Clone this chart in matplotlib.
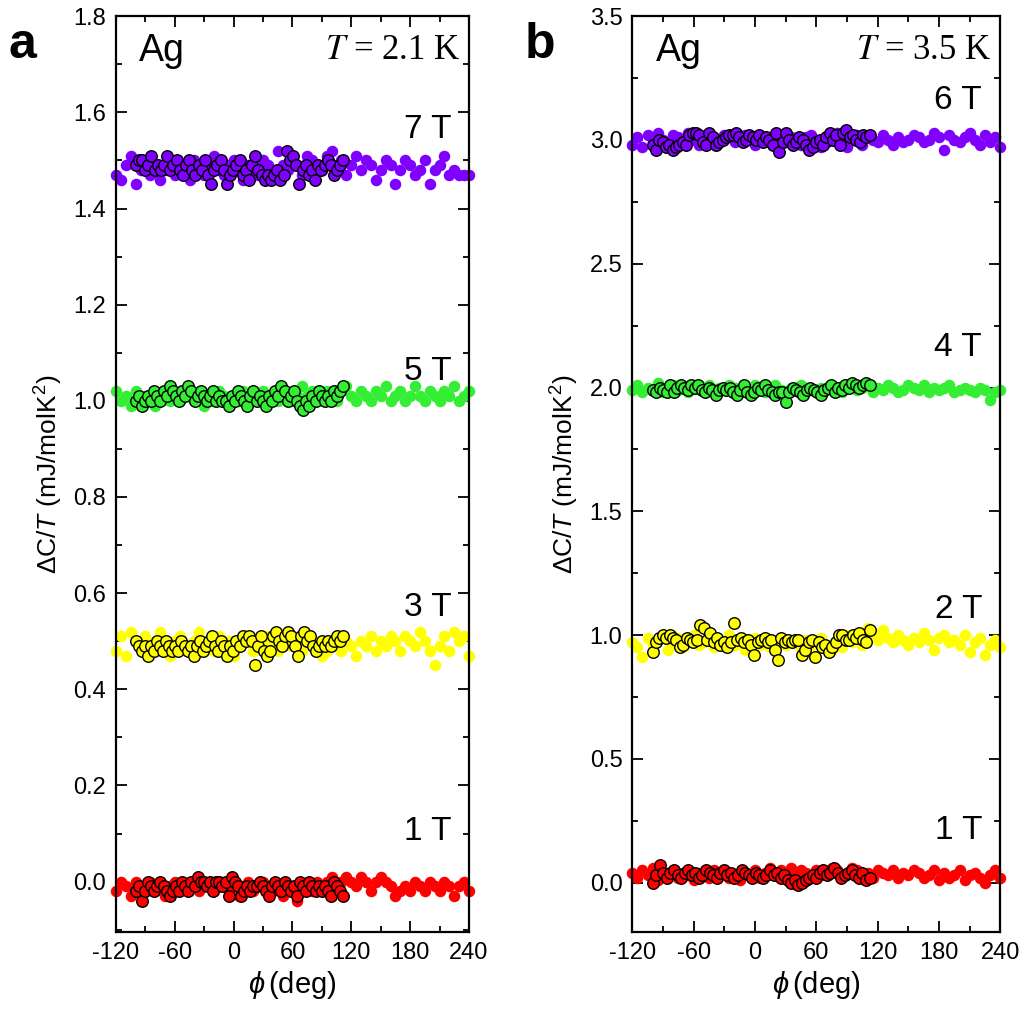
import numpy as np
import matplotlib
matplotlib.use('Agg')
import matplotlib.pyplot as plt
from matplotlib.ticker import MultipleLocator

plt.rcParams['font.family'] = ['Liberation Sans', 'DejaVu Sans']
plt.rcParams['mathtext.fontset'] = 'custom'
plt.rcParams['mathtext.rm'] = 'Liberation Sans'
plt.rcParams['mathtext.it'] = 'Liberation Sans:italic'
plt.rcParams['axes.unicode_minus'] = False

# ---- panel a, T = 2.1 K ----
a_7T_full = [1.47, 1.46, 1.49, 1.51, 1.45, 1.48, 1.50, 1.47, 1.49, 1.46, 1.48, 1.50, 1.47, 1.49, 1.48, 1.46,
             1.50, 1.48, 1.47, 1.49, 1.51, 1.48, 1.47, 1.49, 1.50, 1.48, 1.46, 1.49, 1.48, 1.47, 1.50, 1.49,
             1.47, 1.52, 1.49, 1.48, 1.50, 1.49, 1.47, 1.51, 1.50, 1.49, 1.48, 1.51, 1.52, 1.49, 1.50, 1.47,
             1.49, 1.51, 1.48, 1.50, 1.49, 1.46, 1.48, 1.50, 1.49, 1.45, 1.48, 1.50, 1.49, 1.47, 1.48, 1.50,
             1.45, 1.48, 1.49, 1.51, 1.47, 1.48, 1.47, 1.47, 1.47]
a_7T_edge = [1.49, 1.50, 1.50, 1.48, 1.49, 1.51, 1.48, 1.49, 1.48, 1.49, 1.51, 1.48, 1.49, 1.50, 1.48, 1.47,
             1.49, 1.50, 1.48, 1.47, 1.49, 1.48, 1.50, 1.47, 1.45, 1.48, 1.49, 1.50, 1.48, 1.45, 1.47, 1.48,
             1.49, 1.50, 1.47, 1.48, 1.46, 1.49, 1.51, 1.48, 1.47, 1.46, 1.47, 1.46, 1.47, 1.48, 1.46, 1.47,
             1.52, 1.50, 1.51, 1.49, 1.45, 1.48, 1.49, 1.47, 1.48, 1.46, 1.49, 1.48, 1.49, 1.50, 1.49, 1.47,
             1.48, 1.49, 1.50]
a_5T_full = [1.02, 1.00, 1.01, 0.99, 1.02, 1.00, 1.01, 1.00, 0.99, 1.01, 1.02, 1.00, 1.01, 1.00, 1.02, 1.01,
             1.00, 1.01, 0.99, 1.01, 1.00, 1.02, 1.01, 1.00, 1.01, 1.00, 1.02, 1.01, 1.00, 1.01, 1.02, 1.00,
             1.01, 1.00, 1.02, 1.01, 1.00, 1.01, 1.03, 1.01, 1.02, 1.00, 1.01, 1.02, 1.01, 1.00, 1.02, 1.03,
             1.01, 1.00, 1.02, 1.01, 1.00, 1.02, 1.01, 1.03, 1.00, 1.01, 1.02, 1.00, 1.01, 1.03, 1.01, 1.00,
             1.02, 1.01, 1.00, 1.02, 1.01, 1.03, 1.00, 1.01, 1.02]
a_5T_edge = [1.00, 1.01, 0.99, 1.00, 1.01, 1.00, 1.02, 1.01, 1.00, 1.02, 1.01, 1.03, 1.02, 1.01, 1.00, 1.02,
             1.01, 1.03, 1.02, 1.00, 1.01, 1.02, 1.01, 1.00, 1.01, 1.02, 1.00, 1.01, 1.00, 1.00, 0.99, 1.01,
             1.00, 1.02, 1.01, 1.00, 0.99, 1.01, 1.02, 1.00, 1.01, 1.00, 0.99, 1.01, 1.00, 1.02, 1.01, 1.03,
             1.02, 1.00, 1.01, 1.02, 1.00, 0.99, 0.98, 1.00, 0.99, 1.01, 1.00, 1.02, 1.01, 1.00, 1.01, 1.00,
             1.02, 1.01, 1.02, 1.03]
a_3T_full = [0.48, 0.51, 0.47, 0.52, 0.50, 0.49, 0.51, 0.48, 0.50, 0.52, 0.49, 0.47, 0.50, 0.51, 0.49, 0.48,
             0.50, 0.52, 0.49, 0.50, 0.48, 0.51, 0.49, 0.50, 0.47, 0.49, 0.51, 0.50, 0.48, 0.49, 0.50, 0.51,
             0.49, 0.48, 0.50, 0.51, 0.49, 0.50, 0.48, 0.51, 0.50, 0.49, 0.47, 0.48, 0.50, 0.49, 0.48, 0.50,
             0.49, 0.47, 0.50, 0.49, 0.51, 0.48, 0.50, 0.49, 0.51, 0.50, 0.48, 0.51, 0.50, 0.49, 0.52, 0.50,
             0.48, 0.45, 0.49, 0.51, 0.48, 0.52, 0.50, 0.51, 0.47]
a_3T_edge = [0.50, 0.49, 0.48, 0.49, 0.47, 0.49, 0.48, 0.50, 0.49, 0.48, 0.50, 0.49, 0.48, 0.49, 0.48, 0.50,
             0.49, 0.48, 0.49, 0.47, 0.49, 0.50, 0.48, 0.49, 0.50, 0.51, 0.49, 0.48, 0.50, 0.49, 0.47, 0.49,
             0.48, 0.50, 0.49, 0.51, 0.50, 0.51, 0.50, 0.45, 0.49, 0.51, 0.48, 0.47, 0.48, 0.51, 0.52, 0.50,
             0.49, 0.51, 0.52, 0.51, 0.49, 0.47, 0.51, 0.52, 0.50, 0.51, 0.49, 0.48, 0.49, 0.50, 0.49, 0.50,
             0.49, 0.50, 0.51, 0.50, 0.51]
a_1T_full = [-0.02, 0.00, -0.01, -0.03, 0.00, -0.02, -0.01, 0.00, -0.02, -0.01, -0.03, -0.01, 0.00, -0.02,
             -0.01, 0.00, -0.01, -0.02, 0.00, -0.01, -0.02, -0.01, 0.00, -0.02, -0.01, -0.03, -0.01, 0.00,
             -0.02, -0.01, 0.00, -0.01, -0.02, -0.01, -0.03, -0.01, -0.02, -0.04, -0.02, -0.01, -0.02, 0.00,
             -0.01, 0.00, 0.01, -0.01, 0.00, 0.01, 0.00, -0.01, 0.01, 0.00, -0.02, 0.00, 0.01, 0.00, -0.01,
             -0.03, -0.02, -0.01, -0.02, 0.00, -0.01, -0.02, 0.00, -0.01, -0.02, 0.00, -0.01, -0.03, -0.01,
             0.00, -0.02]
a_1T_edge = [-0.02, -0.01, -0.04, -0.02, 0.00, -0.01, -0.02, -0.01, 0.00, -0.01, -0.02, -0.03, -0.02, -0.01,
             -0.02, 0.00, -0.01, -0.02, 0.00, -0.01, 0.01, 0.00, 0.00, -0.01, 0.00, -0.02, 0.00, 0.00, -0.01,
             0.00, -0.03, 0.01, 0.00, -0.01, -0.03, -0.02, -0.01, -0.02, -0.01, -0.01, 0.00, -0.01, -0.02,
             -0.03, -0.01, 0.00, -0.01, -0.02, 0.00, -0.01, -0.02, -0.01, -0.03, 0.00, -0.01, -0.02, 0.00,
             -0.01, -0.02, -0.01, -0.02, -0.01, -0.02, -0.03, 0.00, -0.01, -0.02, -0.03]

# ---- panel b, T = 3.5 K ----
b_6T_full = [2.98, 3.01, 2.97, 3.02, 2.99, 3.03, 3.00, 2.98, 3.02, 3.01, 2.99, 3.03, 3.00, 2.98, 3.01, 3.02,
             2.99, 3.00, 3.02, 3.01, 2.99, 3.00, 3.02, 3.01, 2.98, 3.00, 3.01, 2.99, 3.02, 3.00, 2.99, 3.01,
             3.00, 2.98, 3.01, 3.02, 3.00, 2.97, 2.99, 3.01, 3.03, 2.98, 2.97, 3.00, 3.02, 2.98, 3.01, 3.00,
             2.99, 3.02, 3.00, 2.98, 3.01, 2.99, 3.00, 3.02, 3.01, 2.99, 3.00, 3.03, 3.01, 2.96, 3.02, 3.00,
             2.99, 3.01, 3.03, 3.00, 2.98, 3.02, 2.99, 3.01, 2.97]
b_6T_edge = [2.98, 2.96, 3.00, 2.99, 2.97, 2.98, 2.96, 2.97, 2.98, 2.99, 2.98, 3.02, 3.03, 3.03, 3.02, 2.99,
             2.98, 3.03, 3.01, 2.98, 2.99, 3.00, 3.01, 3.02, 3.02, 3.03, 3.01, 2.99, 3.00, 3.02, 3.01, 3.00,
             3.02, 2.99, 3.01, 3.00, 2.98, 3.03, 2.95, 2.99, 3.03, 3.00, 2.98, 2.99, 3.01, 3.00, 2.98, 2.96,
             2.97, 2.99, 3.00, 2.98, 3.01, 3.03, 3.00, 3.02, 2.98, 3.03, 3.04, 3.01, 3.02, 3.00, 2.99, 3.02,
             3.01, 3.02]
b_4T_full = [1.99, 2.01, 1.98, 2.00, 1.99, 2.02, 1.98, 2.00, 2.01, 1.99, 2.00, 1.98, 2.01, 2.00, 1.99, 2.01,
             1.98, 2.00, 1.99, 2.01, 2.00, 1.98, 2.00, 1.99, 2.01, 1.99, 1.98, 2.00, 2.01, 1.99, 1.98, 2.00,
             1.99, 2.01, 2.00, 1.99, 1.98, 2.00, 1.99, 2.01, 2.00, 1.98, 2.00, 2.01, 1.99, 2.00, 2.01, 1.98,
             2.00, 1.99, 2.01, 2.00, 1.98, 1.99, 2.01, 2.00, 1.99, 2.01, 1.98, 2.00, 1.99, 2.00, 2.01, 1.98,
             1.99, 2.00, 1.99, 1.98, 2.00, 1.99, 1.95, 1.98, 1.99]
b_4T_edge = [1.99, 1.98, 2.00, 1.99, 1.98, 2.01, 1.98, 2.00, 2.01, 2.00, 1.99, 2.01, 2.00, 2.01, 1.99, 1.98,
             2.00, 1.99, 1.97, 1.99, 2.00, 1.99, 2.00, 1.98, 1.97, 1.99, 2.01, 1.98, 1.97, 1.98, 2.00, 1.99,
             2.01, 1.99, 1.98, 1.97, 1.98, 1.98, 1.94, 1.98, 2.00, 1.99, 1.98, 1.97, 1.99, 2.00, 1.99, 1.98,
             1.97, 1.99, 2.00, 2.01, 1.98, 2.00, 1.99, 2.01, 2.00, 2.02, 2.01, 2.00, 2.01, 2.02, 2.01]
b_2T_full = [0.97, 0.95, 0.91, 0.99, 0.96, 0.98, 1.00, 0.94, 0.97, 0.99, 0.95, 0.98, 1.00, 0.96, 0.97, 0.99,
             0.95, 0.98, 0.97, 1.00, 0.96, 0.98, 0.94, 0.97, 0.99, 0.96, 0.98, 0.95, 0.97, 0.99, 0.96, 0.98,
             0.97, 0.95, 0.98, 0.96, 0.97, 0.99, 0.96, 0.94, 0.98, 0.95, 1.00, 0.97, 0.99, 0.96, 1.03, 1.01,
             0.98, 1.02, 0.99, 0.97, 1.00, 0.98, 0.96, 0.99, 0.97, 1.01, 0.98, 0.94, 0.99, 1.00, 0.97, 0.98,
             0.96, 1.00, 0.93, 0.97, 0.99, 0.92, 0.96, 0.98, 0.95]
b_2T_edge = [0.93, 0.97, 0.99, 1.00, 0.99, 1.00, 0.99, 0.98, 0.95, 0.96, 0.99, 0.98, 0.97, 0.98, 1.04, 1.03,
             0.98, 1.01, 0.97, 0.99, 0.96, 0.97, 0.95, 0.97, 1.05, 0.98, 0.99, 0.97, 0.98, 0.96, 0.92, 0.97,
             0.98, 0.99, 0.97, 0.98, 0.94, 0.90, 0.99, 0.97, 0.98, 0.97, 0.98, 0.98, 0.92, 0.94, 0.97, 0.98,
             0.91, 0.97, 0.95, 0.96, 0.93, 0.95, 0.97, 1.00, 1.00, 0.98, 0.98, 1.00, 0.99, 1.01, 0.98, 0.97,
             1.02]
b_1T_full = [0.04, 0.02, 0.05, 0.03, 0.06, 0.01, 0.04, 0.03, 0.05, 0.02, 0.04, 0.03, 0.01, 0.04, 0.03, 0.02,
             0.05, 0.03, 0.04, 0.02, 0.03, 0.01, 0.04, 0.03, 0.05, 0.02, 0.04, 0.06, 0.03, 0.05, 0.04, 0.06,
             0.03, 0.05, 0.04, 0.02, 0.05, 0.03, 0.04, 0.06, 0.05, 0.03, 0.04, 0.06, 0.05, 0.03, 0.04, 0.02,
             0.05, 0.04, 0.03, 0.05, 0.02, 0.04, 0.03, 0.05, 0.04, 0.02, 0.03, 0.05, 0.01, 0.04, 0.02, 0.03,
             0.05, 0.01, 0.03, 0.04, 0.02, 0.00, 0.03, 0.05, 0.02]
b_1T_edge = [0.00, 0.03, 0.07, 0.04, 0.02, 0.04, 0.05, 0.03, 0.02, 0.04, 0.05, 0.03, 0.04, 0.02, 0.03, 0.05,
             0.04, 0.03, 0.02, 0.04, 0.05, 0.03, 0.04, 0.02, 0.03, 0.05, 0.04, 0.03, 0.02, 0.04, 0.03, 0.02,
             0.03, 0.05, 0.03, 0.04, 0.02, 0.03, 0.01, 0.00, 0.01, -0.01, 0.00, 0.01, 0.02, 0.03, 0.02, 0.04,
             0.05, 0.03, 0.04, 0.06, 0.04, 0.02, 0.03, 0.04, 0.05, 0.03, 0.02, 0.04, 0.01, 0.02]

purple = '#8000ff'
green = '#33ee33'
yellow = '#ffff00'
red = '#ff0000'

panels = [
    dict(series=[(a_7T_full, a_7T_edge, purple, '7 T', 1.565),
                 (a_5T_full, a_5T_edge, green, '5 T', 1.06),
                 (a_3T_full, a_3T_edge, yellow, '3 T', 0.57),
                 (a_1T_full, a_1T_edge, red, '1 T', 0.105)],
         ylim=(-0.105, 1.8), major=0.2, minor=0.1, temp='2.1', letter='a'),
    dict(series=[(b_6T_full, b_6T_edge, purple, '6 T', 3.16),
                 (b_4T_full, b_4T_edge, green, '4 T', 2.16),
                 (b_2T_full, b_2T_edge, yellow, '2 T', 1.105),
                 (b_1T_full, b_1T_edge, red, '1 T', 0.21)],
         ylim=(-0.2, 3.5), major=0.5, minor=0.25, temp='3.5', letter='b'),
]

fig = plt.figure(figsize=(10.23, 10.11), dpi=100)
rects = [[0.1134, 0.078, 0.345, 0.906], [0.618, 0.078, 0.360, 0.906]]
ms = 8.3

for rect, p, lx in zip(rects, panels, [0.008, 0.513]):
    ax = fig.add_axes(rect)
    for full, edge, col, lab, ly in p['series']:
        xf = np.linspace(-120, 240, len(full))
        xe = np.linspace(-100, 112, len(edge))
        ax.plot(xf, full, 'o', ms=ms, color=col, mec='none', zorder=2, clip_on=False)
        ax.plot(xe, edge, 'o', ms=ms, mfc=col, mec='black', mew=1.0, zorder=3)
        ax.text(222, ly, lab, fontsize=24, ha='right', va='center')
    ax.set_xlim(-120, 240)
    ax.set_ylim(*p['ylim'])
    ax.xaxis.set_major_locator(MultipleLocator(60))
    ax.xaxis.set_minor_locator(MultipleLocator(30))
    ax.yaxis.set_major_locator(MultipleLocator(p['major']))
    ax.yaxis.set_minor_locator(MultipleLocator(p['minor']))
    ax.yaxis.set_major_formatter(matplotlib.ticker.FormatStrFormatter('%.1f'))
    ax.tick_params(which='both', direction='in', top=True, right=True, labelsize=17, width=1.3)
    ax.tick_params(which='major', length=8, pad=7)
    ax.tick_params(which='minor', length=4.5)
    for s in ax.spines.values():
        s.set_linewidth(1.6)
    ax.set_xlabel(r'$\phi\,$(deg)', fontsize=21, labelpad=4)
    ax.set_ylabel(r'$\Delta$C/$T$ (mJ/molK$^2$)', fontsize=19, labelpad=6)
    ax.text(0.065, 0.962, 'Ag', transform=ax.transAxes, fontsize=27, ha='left', va='center')
    ax.text(0.975, 0.962, r'$T$ = ' + p['temp'] + ' K', transform=ax.transAxes, fontsize=25,
            ha='right', va='center', family='Liberation Serif', math_fontfamily='stix')
    fig.text(lx, 0.955, p['letter'], fontsize=36, fontweight='bold', ha='left', va='center')

fig.savefig('out.png', dpi=100)
